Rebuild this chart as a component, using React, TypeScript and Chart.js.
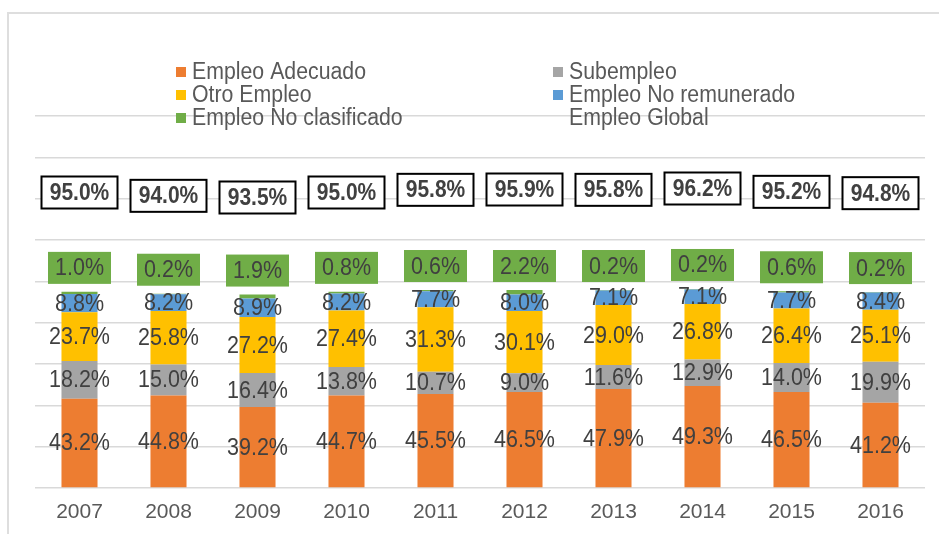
import { useEffect, useRef } from "react";
import { Chart, registerables } from "chart.js";

Chart.register(...registerables);

const years = ["2007", "2008", "2009", "2010", "2011", "2012", "2013", "2014", "2015", "2016"];
const empleoAdecuado = [43.2, 44.8, 39.2, 44.7, 45.5, 46.5, 47.9, 49.3, 46.5, 41.2];
const subempleo = [18.2, 15.0, 16.4, 13.8, 10.7, 9.0, 11.6, 12.9, 14.0, 19.9];
const otroEmpleo = [23.7, 25.8, 27.2, 27.4, 31.3, 30.1, 29.0, 26.8, 26.4, 25.1];
const noRemunerado = [8.8, 8.2, 8.9, 8.2, 7.7, 8.0, 7.1, 7.1, 7.7, 8.4];
const noClasificado = [1.0, 0.2, 1.9, 0.8, 0.6, 2.2, 0.2, 0.2, 0.6, 0.2];
const empleoGlobal = [95.0, 94.0, 93.5, 95.0, 95.8, 95.9, 95.8, 96.2, 95.2, 94.8];

const FONT = '"Liberation Sans", Arial, Helvetica, sans-serif';
const TEXT_DARK = "#404040";
const TEXT_GRAY = "#595959";
const STRETCH = 1.1;

const fmt = (v: number) => v.toFixed(1) + "%";

function stretchedText(ctx: CanvasRenderingContext2D, text: string, x: number, y: number) {
  ctx.save();
  ctx.translate(x, y);
  ctx.scale(1, STRETCH);
  ctx.fillText(text, 0, 0);
  ctx.restore();
}

const labelsPlugin = {
  id: "customLabels",
  afterDatasetsDraw(chart: any) {
    const ctx = chart.ctx as CanvasRenderingContext2D;
    ctx.save();
    ctx.textAlign = "center";
    ctx.textBaseline = "middle";

    // Centered labels for the first four stacked segments
    for (let d = 0; d < 4; d++) {
      const meta = chart.getDatasetMeta(d);
      meta.data.forEach((el: any, i: number) => {
        const v = chart.data.datasets[d].data[i] as number;
        const p = el.getProps(["x", "y", "base"], true);
        ctx.font = `21.5px ${FONT}`;
        ctx.fillStyle = TEXT_DARK;
        stretchedText(ctx, fmt(v), p.x, (p.y + p.base) / 2 + 1);
      });
    }

    // Green boxed labels above the stack top
    const gMeta = chart.getDatasetMeta(4);
    gMeta.data.forEach((el: any, i: number) => {
      const v = chart.data.datasets[4].data[i] as number;
      const p = el.getProps(["x", "y"], true);
      const w = 63;
      const h = 32;
      const cy = p.y - 24;
      ctx.fillStyle = "#70AD47";
      ctx.fillRect(p.x - w / 2, cy - h / 2, w, h);
      ctx.font = `21.5px ${FONT}`;
      ctx.fillStyle = TEXT_DARK;
      stretchedText(ctx, fmt(v), p.x, cy + 1);
    });

    // Global boxed labels
    const lMeta = chart.getDatasetMeta(5);
    lMeta.data.forEach((el: any, i: number) => {
      const v = chart.data.datasets[5].data[i] as number;
      const p = el.getProps(["x", "y"], true);
      const w = 76;
      const h = 32;
      ctx.fillStyle = "#ffffff";
      ctx.fillRect(p.x - w / 2, p.y - h / 2, w, h);
      ctx.lineWidth = 2;
      ctx.strokeStyle = "#000000";
      ctx.strokeRect(p.x - w / 2, p.y - h / 2, w, h);
      ctx.font = `bold 21px ${FONT}`;
      ctx.fillStyle = TEXT_DARK;
      stretchedText(ctx, fmt(v), p.x, p.y + 1);
    });
    ctx.restore();
  },
  afterDraw(chart: any) {
    // Two-column legend
    const ctx = chart.ctx as CanvasRenderingContext2D;
    ctx.save();
    ctx.textAlign = "left";
    ctx.textBaseline = "middle";
    ctx.font = `21.3px ${FONT}`;
    const colX = [176, 553];
    const rowY = [72, 95, 118];
    chart.data.datasets.forEach((ds: any, i: number) => {
      const col = i % 2;
      const row = Math.floor(i / 2);
      const x = colX[col];
      const y = rowY[row];
      if (ds.type !== "line") {
        ctx.fillStyle = ds.backgroundColor;
        ctx.fillRect(x, y - 5, 10, 10);
      }
      ctx.fillStyle = TEXT_GRAY;
      stretchedText(ctx, ds.label, x + 16, y + 1);
    });
    ctx.restore();
  },
};

export default function App() {
  const canvasRef = useRef<HTMLCanvasElement | null>(null);

  useEffect(() => {
    if (!canvasRef.current) return;
    const chart = new Chart(canvasRef.current, {
      type: "bar",
      data: {
        labels: years,
        datasets: [
          { label: "Empleo Adecuado", data: empleoAdecuado, backgroundColor: "#ED7D31", stack: "s", yAxisID: "y" },
          { label: "Subempleo", data: subempleo, backgroundColor: "#A5A5A5", stack: "s", yAxisID: "y" },
          { label: "Otro Empleo", data: otroEmpleo, backgroundColor: "#FFC000", stack: "s", yAxisID: "y" },
          { label: "Empleo No remunerado", data: noRemunerado, backgroundColor: "#5B9BD5", stack: "s", yAxisID: "y" },
          { label: "Empleo No clasificado", data: noClasificado, backgroundColor: "#70AD47", stack: "s", yAxisID: "y" },
          {
            type: "line",
            label: "Empleo Global",
            data: empleoGlobal,
            yAxisID: "y2",
            showLine: false,
            pointRadius: 0,
            borderColor: "rgba(0,0,0,0)",
            backgroundColor: "rgba(0,0,0,0)",
          } as any,
        ],
      },
      options: {
        responsive: false,
        animation: false,
        devicePixelRatio: 1,
        layout: { padding: { left: 35, right: 14, top: 116, bottom: 0 } },
        datasets: {
          bar: { barPercentage: 0.405, categoryPercentage: 1 },
        },
        plugins: {
          legend: { display: false },
          tooltip: { enabled: false },
        },
        scales: {
          x: {
            stacked: true,
            grid: { display: false, drawTicks: false },
            border: { display: false },
            ticks: {
              color: TEXT_GRAY,
              font: { family: FONT, size: 21 },
              padding: 12,
            },
            afterFit: (s: any) => {
              s.height = 46;
            },
          },
          y: {
            stacked: true,
            min: 0,
            max: 180,
            ticks: { display: false, stepSize: 20 },
            grid: { color: "#d9d9d9", lineWidth: 1.5, drawTicks: false },
            border: { display: false },
            afterFit: (s: any) => {
              s.width = 0;
            },
          },
          y2: {
            display: false,
            min: 6.35,
            max: 117.95,
          },
        },
      },
      plugins: [labelsPlugin],
    });
    return () => chart.destroy();
  }, []);

  return (
    <div style={{ position: "fixed", left: 0, top: 0, width: 939, height: 534, overflow: "hidden", background: "#ffffff" }}>
      <div
        style={{
          position: "absolute",
          left: 7,
          top: 12,
          width: 1000,
          height: 1000,
          border: "2px solid #dedede",
          boxSizing: "border-box",
        }}
      />
      <canvas ref={canvasRef} width={939} height={534} style={{ position: "absolute", left: 0, top: 0 }} />
    </div>
  );
}
